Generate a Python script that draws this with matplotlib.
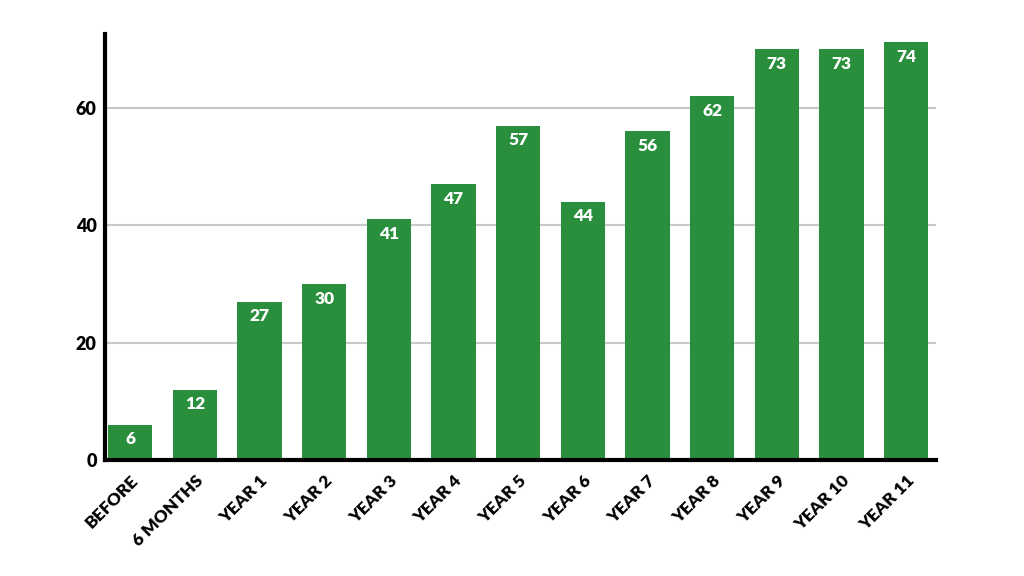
import matplotlib
matplotlib.use("Agg")
import matplotlib.pyplot as plt

categories = ["BEFORE", "6 MONTHS", "YEAR 1", "YEAR 2", "YEAR 3", "YEAR 4", "YEAR 5",
              "YEAR 6", "YEAR 7", "YEAR 8", "YEAR 9", "YEAR 10", "YEAR 11"]
# printed labels
values = [6, 12, 27, 30, 41, 47, 57, 44, 56, 62, 73, 73, 74]
# bar heights as drawn in the picture (last three are drawn shorter than labelled)
heights = [6, 12, 27, 30, 41, 47, 57, 44, 56, 62, 70, 70, 71.2]
yticks = [0, 20, 40, 60]

green = "#2a8f3d"
plt.rcParams["font.family"] = ["Lato", "DejaVu Sans"]

fig = plt.figure(figsize=(10.24, 5.76), dpi=100)
ax = fig.add_axes([0.1025, 0.2014, 0.8115, 0.7396])

x = range(len(categories))
bars = ax.bar(x, heights, width=0.69, color=green, zorder=3)

for b, v in zip(bars, values):
    ax.annotate(str(v), xy=(b.get_x() + b.get_width() / 2, b.get_height()),
                xytext=(0, -10.5), textcoords="offset points", ha="center", va="center",
                color="white", fontsize=12.5, fontweight="heavy", zorder=4)

ax.set_xlim(-0.39, 12.46)
ax.set_ylim(0, 72.6)
ax.set_yticks(yticks)
ax.set_xticks(list(x))
ax.set_xticklabels(categories, rotation=45, ha="right", rotation_mode="anchor",
                   fontsize=12.5, fontweight="heavy")
for lab in ax.get_yticklabels():
    lab.set_fontsize(13)
    lab.set_fontweight("heavy")
ax.tick_params(axis="both", length=0, pad=6)
ax.tick_params(axis="x", pad=9)

ax.grid(axis="y", color="#c8c8c8", linewidth=1.5, zorder=0)
for side in ["top", "right"]:
    ax.spines[side].set_visible(False)
for side in ["left", "bottom"]:
    ax.spines[side].set_linewidth(3)
    ax.spines[side].set_color("black")
    ax.spines[side].set_zorder(5)

fig.savefig("out.png", dpi=100)
